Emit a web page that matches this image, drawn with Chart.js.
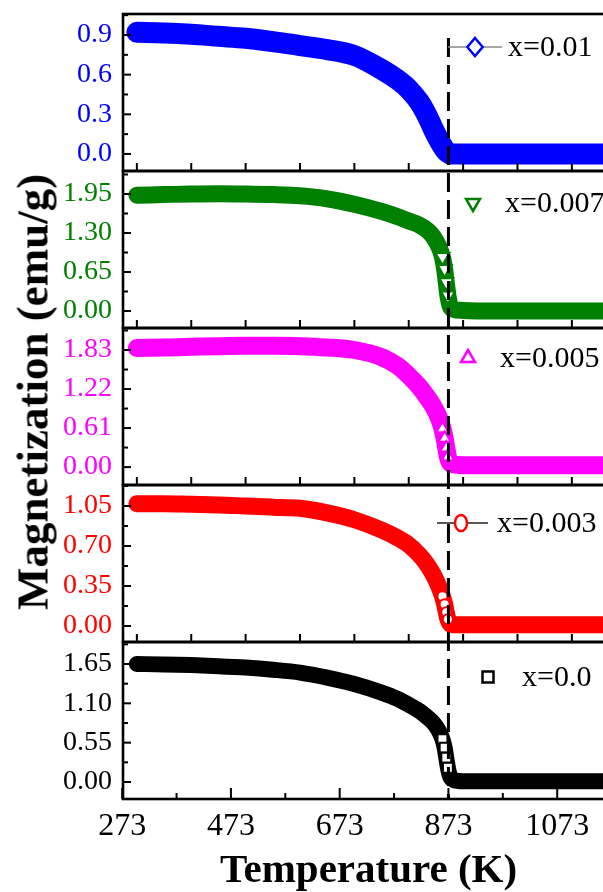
<!DOCTYPE html>
<html>
<head>
<meta charset="utf-8">
<script src="https://cdn.jsdelivr.net/npm/chart.js@4.4.1/dist/chart.umd.min.js"></script>
<style>
  html, body { margin: 0; padding: 0; background: #fff; overflow: hidden; width: 603px; height: 892px; }
  #wrap { position: relative; width: 603px; height: 892px; overflow: hidden; }
  #c { position: absolute; left: 0; top: 0; }
  #ytitle {
    position: absolute; left: 33px; top: 392px;
    transform: translate(-50%, -50%) rotate(-90deg);
    font: bold 45px 'Liberation Serif', 'Times New Roman', serif;
    line-height: 1; white-space: nowrap; color: #000;
  }
</style>
</head>
<body>
<div id="wrap">
  <canvas id="c" width="626" height="892"></canvas>
  <div id="ytitle">Magnetization (emu/g)</div>
</div>
<script>
// Temperature grid (K) shared by all five magnetization curves
const temperature = [300, 350, 400, 450, 500, 550, 600, 650, 700, 750, 780, 800, 820, 835, 845,
                     855, 862, 866, 869, 872, 876, 882, 900, 950, 1000, 1050, 1100, 1150, 1200];

// Magnetization (emu/g) for each composition
const magX001  = [0.92, 0.915, 0.905, 0.89, 0.875, 0.85, 0.82, 0.79, 0.745, 0.64, 0.56, 0.49, 0.39, 0.28, 0.19,
                  0.11, 0.06, 0.035, 0.02, 0.01, 0.0, 0.0, 0.0, 0.0, 0.0, 0.0, 0.0, 0.0, 0.0];
const magX0007 = [1.93, 1.94, 1.95, 1.955, 1.95, 1.94, 1.92, 1.87, 1.78, 1.66, 1.57, 1.50, 1.43, 1.34, 1.24,
                  1.08, 0.90, 0.70, 0.48, 0.26, 0.09, 0.03, 0.01, 0.0, 0.0, 0.0, 0.0, 0.0, 0.0];
const magX0005 = [1.86, 1.87, 1.88, 1.89, 1.895, 1.895, 1.89, 1.87, 1.83, 1.72, 1.58, 1.43, 1.25, 1.08, 0.95,
                  0.78, 0.60, 0.45, 0.30, 0.16, 0.07, 0.04, 0.03, 0.03, 0.03, 0.03, 0.03, 0.03, 0.03];
const magX0003 = [1.07, 1.07, 1.065, 1.06, 1.05, 1.04, 1.03, 0.99, 0.93, 0.84, 0.77, 0.71, 0.62, 0.53, 0.45,
                  0.35, 0.26, 0.19, 0.12, 0.06, 0.02, 0.01, 0.01, 0.01, 0.01, 0.01, 0.01, 0.01, 0.01];
const magX0    = [1.65, 1.645, 1.635, 1.62, 1.60, 1.57, 1.53, 1.46, 1.37, 1.25, 1.16, 1.08, 0.99, 0.90, 0.83,
                  0.72, 0.60, 0.48, 0.34, 0.20, 0.08, 0.03, 0.01, 0.01, 0.01, 0.01, 0.01, 0.01, 0.01];

const seriesLabels = ['x=0.01', 'x=0.007', 'x=0.005', 'x=0.003', 'x=0.0'];

// Tick values
const xTicksBottom = [273, 373, 473, 573, 673, 773, 873, 973, 1073, 1173];
const xTickLabels  = [273, 473, 673, 873, 1073];
const xTicksUpper  = [300, 400, 500, 600, 700, 800, 900, 1000, 1100];
const yTicks001  = [0, 0.3, 0.6, 0.9];
const yTicks0007 = [0, 0.65, 1.3, 1.95];
const yTicks0005 = [0, 0.61, 1.22, 1.83];
const yTicks0003 = [0, 0.35, 0.70, 1.05];
const yTicks0    = [0, 0.55, 1.10, 1.65];

const curieT = 873;
// temperatures around the steep drop where the individual open symbols show
const transitionT = [862, 866, 869, 872];

const SERIF = "'Liberation Serif', 'Times New Roman', serif";

// Panel descriptions, top to bottom
const panels = [
  { id: 'y1', label: seriesLabels[0], values: magX001,  ticks: yTicks001,  dec: 1, min: -0.129, max: 1.059,
    color: '#0000ff', style: 'rectRot', rot: 0,   band: 21, sym: 0,
    legend: { dy: 33, mx: 475, tx: 508, mr: 9, line: [448, 502], lineColor: '#888' } },
  { id: 'y2', label: seriesLabels[1], values: magX0007, ticks: yTicks0007, dec: 2, min: -0.283, max: 2.333,
    color: '#008000', style: 'triangle', rot: 180, band: 17, sym: 8,
    legend: { dy: 32, mx: 473, tx: 505, mr: 8 } },
  { id: 'y3', label: seriesLabels[2], values: magX0005, ticks: yTicks0005, dec: 2, min: -0.28, max: 2.174,
    color: '#ff00ff', style: 'triangle', rot: 0,   band: 18, sym: 7,
    legend: { dy: 30, mx: 468, tx: 500, mr: 8 } },
  { id: 'y4', label: seriesLabels[3], values: magX0003, ticks: yTicks0003, dec: 2, min: -0.14, max: 1.234,
    color: '#ff0000', style: 'circle', rot: 0,    band: 17, sym: 5,
    legend: { dy: 38, mx: 461, tx: 497, mr: 8, line: [437, 488], lineColor: '#222' } },
  { id: 'y5', label: seriesLabels[4], values: magX0,    ticks: yTicks0,    dec: 2, min: -0.238, max: 1.958,
    color: '#000000', style: 'rect', rot: 0,      band: 16, sym: 7,
    legend: { dy: 35, mx: 488, tx: 522, mr: 5.5 } }
];

function drawMarker(ctx, style, rot, x, y, r) {
  ctx.beginPath();
  if (style === 'rectRot') {
    ctx.moveTo(x, y - r); ctx.lineTo(x + r * 0.85, y); ctx.lineTo(x, y + r); ctx.lineTo(x - r * 0.85, y); ctx.closePath();
  } else if (style === 'triangle') {
    const s = rot === 180 ? -1 : 1;
    ctx.moveTo(x, y - s * r); ctx.lineTo(x + r * 0.87, y + s * r * 0.5); ctx.lineTo(x - r * 0.87, y + s * r * 0.5); ctx.closePath();
  } else if (style === 'circle') {
    ctx.ellipse(x, y, r * 0.75, r, 0, 0, Math.PI * 2);
  } else {
    ctx.rect(x - r, y - r, 2 * r, 2 * r);
  }
  ctx.stroke();
}

// Frames, inward ticks, Curie-temperature marker and per-panel keys
const panelDecor = {
  id: 'panelDecor',
  afterDatasetsDraw(chart) {
    const ctx = chart.ctx;
    const xs = chart.scales.x;
    const area = chart.chartArea;
    ctx.save();
    ctx.strokeStyle = '#000';
    ctx.lineCap = 'butt';

    panels.forEach((p, i) => {
      const ys = chart.scales[p.id];
      // y ticks (major + minor halfway)
      const step = p.ticks[1] - p.ticks[0];
      ctx.lineWidth = 2;
      for (let k = Math.ceil(p.min / (step / 2)); k * step / 2 <= p.max; k++) {
        const v = k * step / 2;
        const py = ys.getPixelForValue(v);
        const len = (k % 2 === 0) ? 8 : 5;
        ctx.beginPath(); ctx.moveTo(area.left, py); ctx.lineTo(area.left + len, py); ctx.stroke();
      }
      // x ticks on the bottom edge of each panel
      const last = i === panels.length - 1;
      const xt = last ? xTicksBottom : xTicksUpper;
      xt.forEach(v => {
        const px = xs.getPixelForValue(v);
        const len = last ? (xTickLabels.includes(v) ? 11 : 6) : 8;
        ctx.beginPath(); ctx.moveTo(px, ys.bottom); ctx.lineTo(px, ys.bottom - len); ctx.stroke();
      });
      // frame
      ctx.lineWidth = 2.6;
      ctx.strokeRect(area.left, ys.top, area.right - area.left, ys.bottom - ys.top);
    });

    // dashed line at the transition temperature
    const cx = xs.getPixelForValue(curieT);
    ctx.lineWidth = 3;
    ctx.setLineDash([19, 8]);
    ctx.beginPath(); ctx.moveTo(cx, 38); ctx.lineTo(cx, area.bottom); ctx.stroke();
    ctx.setLineDash([]);

    // keys
    panels.forEach(p => {
      const ys = chart.scales[p.id];
      const L = p.legend;
      const y = ys.top + L.dy;
      if (L.line) {
        ctx.strokeStyle = L.lineColor; ctx.lineWidth = 1.5;
        ctx.beginPath(); ctx.moveTo(L.line[0], y); ctx.lineTo(L.line[1], y); ctx.stroke();
        ctx.save(); ctx.fillStyle = '#fff'; ctx.strokeStyle = '#fff';
        drawMarker(ctx, p.style, p.rot, L.mx, y, L.mr);
        ctx.fill(); ctx.restore();
      }
      ctx.strokeStyle = p.color; ctx.lineWidth = 2.5;
      drawMarker(ctx, p.style, p.rot, L.mx, y, L.mr);
      ctx.fillStyle = '#000';
      ctx.font = '30px ' + SERIF;
      ctx.textAlign = 'left'; ctx.textBaseline = 'middle';
      ctx.fillText(p.label, L.tx, y + 1);
    });
    ctx.restore();
  }
};

function noPadding(s) {
  s.paddingTop = 0; s.paddingBottom = 0; s.paddingLeft = 0; s.paddingRight = 0;
}

function yScale(p) {
  return {
    type: 'linear', position: 'left', stack: 'magnetization', stackWeight: 1,
    min: p.min, max: p.max,
    grid: { display: false, drawTicks: false }, border: { display: false },
    afterBuildTicks: s => { s.ticks = p.ticks.map(v => ({ value: v })); },
    afterFit: s => { s.width = 123; noPadding(s); },
    ticks: { autoSkip: false, color: p.color, padding: 11, font: { family: SERIF, size: 28 },
             callback: v => Number(v).toFixed(p.dec) }
  };
}

// stacked left axes are laid out bottom-up in definition order
const scales = {
  x: {
    type: 'linear', position: 'bottom', min: 274.5, max: 1177.5,
    grid: { display: false, drawTicks: false }, border: { display: false },
    afterBuildTicks: s => { s.ticks = xTicksBottom.map(v => ({ value: v })); },
    afterFit: s => { s.height = 93; noPadding(s); },
    ticks: { autoSkip: false, maxRotation: 0, padding: 8, color: '#000', font: { family: SERIF, size: 32 },
             callback: v => xTickLabels.includes(v) ? String(v) : '' },
    title: { display: true, text: 'Temperature (K)', color: '#000', padding: 0,
             font: { family: SERIF, size: 41, weight: 'bold', lineHeight: 1 } }
  }
};
[...panels].reverse().forEach(p => { scales[p.id] = yScale(p); });

const datasets = panels.map(p => ({
  label: p.label,
  yAxisID: p.id,
  data: temperature.map((t, i) => ({ x: t, y: p.values[i] })),
  borderColor: p.color,
  backgroundColor: 'rgba(0,0,0,0)',
  borderWidth: p.band,
  borderCapStyle: 'round',
  borderJoinStyle: 'round',
  cubicInterpolationMode: 'monotone',
  fill: false,
  pointStyle: p.style,
  rotation: p.rot,
  pointRadius: ctx => transitionT.includes(temperature[ctx.dataIndex]) ? p.sym : 0,
  pointBorderWidth: 2,
  pointBorderColor: p.color,
  pointBackgroundColor: '#fff'
}));

new Chart(document.getElementById('c'), {
  type: 'line',
  data: { datasets },
  options: {
    responsive: false,
    animation: false,
    layout: { padding: { top: 14, left: 0, right: 12, bottom: 0 } },
    plugins: { legend: { display: false }, tooltip: { enabled: false } },
    scales
  },
  plugins: [panelDecor]
});
</script>
</body>
</html>
